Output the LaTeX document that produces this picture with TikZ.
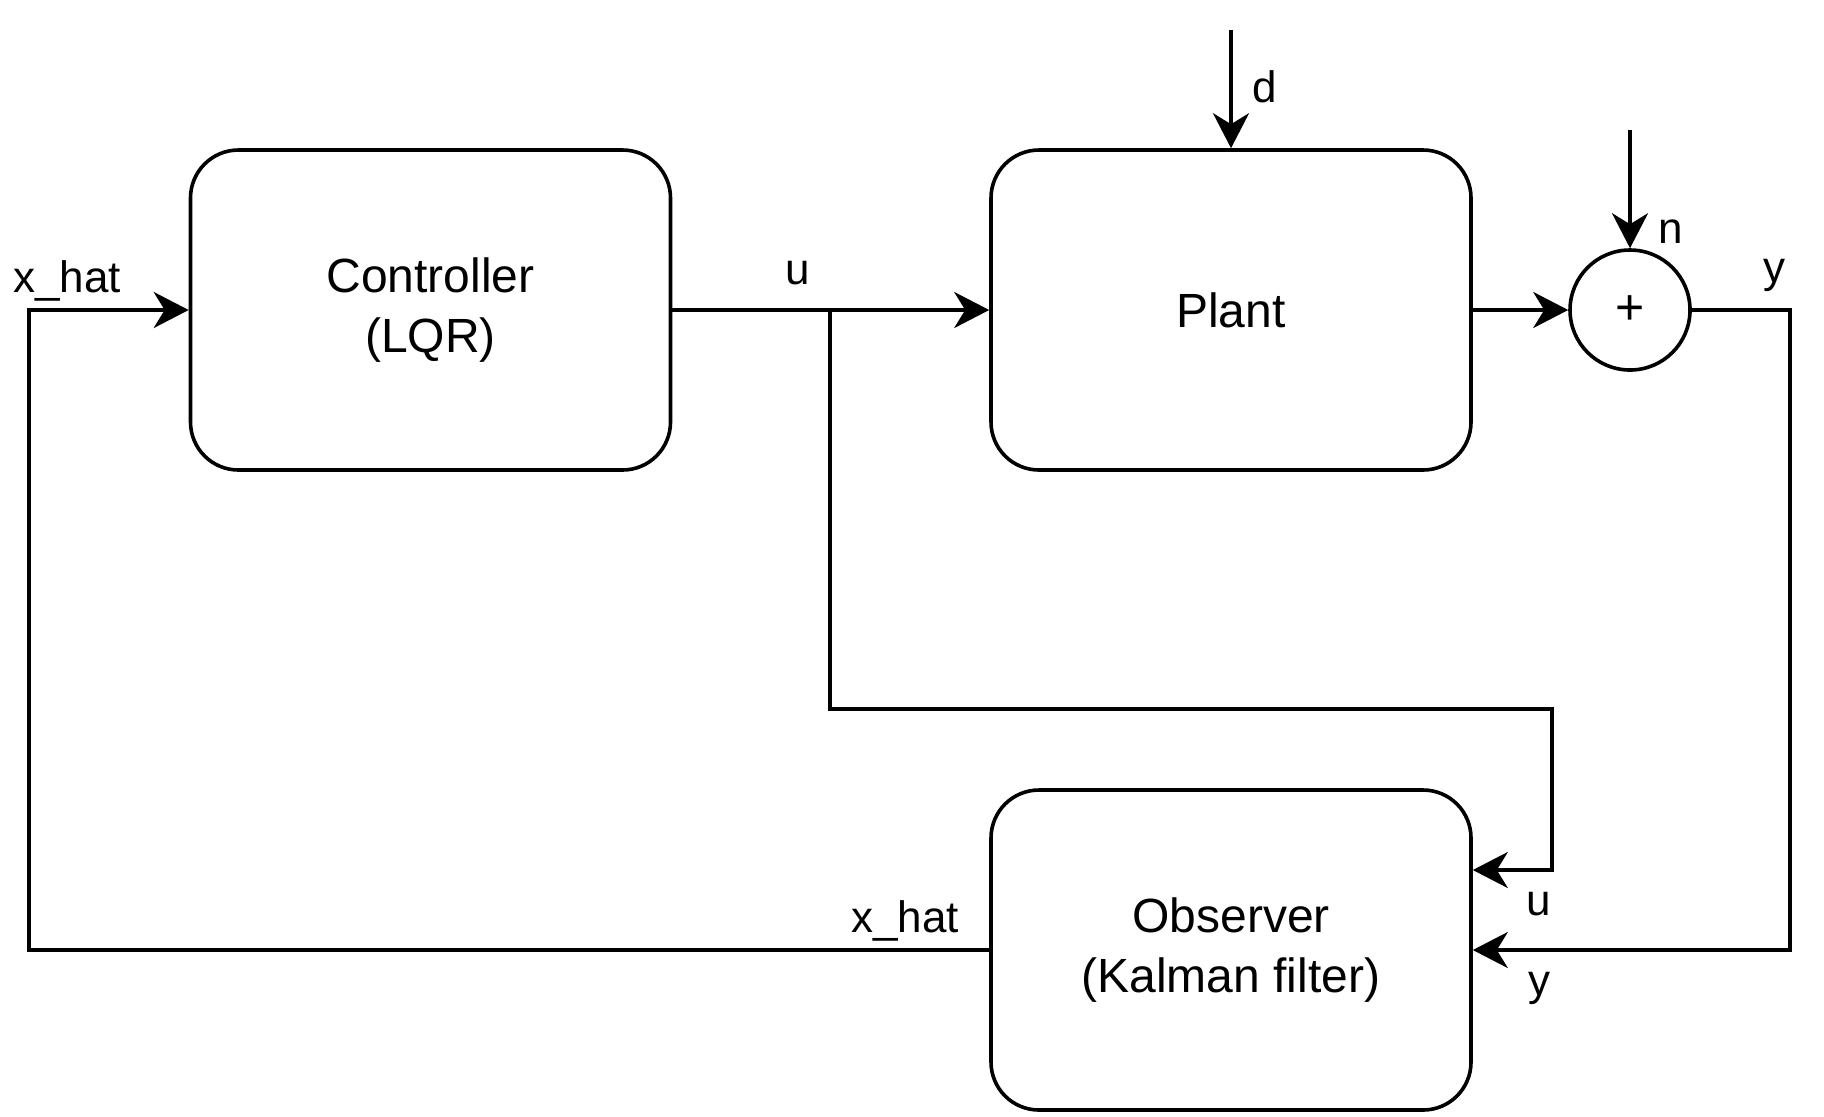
\documentclass[tikz,border=0pt]{standalone}
\usepackage{fontspec}
\setmainfont{Liberation Sans}
\usetikzlibrary{arrows.meta,calc}
\begin{document}
\begin{tikzpicture}[x=0.5pt,y=-0.5pt,
  blk/.style={draw,line width=1.8pt,rounded corners=24pt,minimum width=240pt,minimum height=160pt,align=center,inner sep=0pt,font=\fontsize{24pt}{30pt}\selectfont},
  sumc/.style={draw,circle,line width=1.8pt,minimum size=60pt,inner sep=0pt,font=\fontsize{25pt}{30pt}\selectfont},
  wire/.style={line width=1.8pt},
  arr/.style={wire,-{Stealth[length=17.5pt,width=18pt,inset=5.5pt]}},
  lbl/.style={anchor=base,inner sep=0pt,font=\fontsize{22pt}{25pt}\selectfont}]
\useasboundingbox (0,0) rectangle (1824,1116);
\node[blk] (ctrl) at (430.5,310) {Controller\\(LQR)};
\node[blk] (plant) at (1231,310) {Plant};
\node[blk] (obs) at (1231,950) {Observer\\(Kalman filter)};
\node[sumc] (sum) at (1630,310) {+};
\coordinate (br) at (830,310);
\coordinate (ubend) at (1552,709);
\coordinate (yc) at (1790,630);
\coordinate (lc) at (29,630);
\coordinate (dtop) at (1231,30);
\coordinate (ntop) at (1630,130);
\draw[arr] (ctrl.east) -- (plant.west);
\draw[arr] (plant.east) -- (sum.west);
\draw[arr] (dtop) -- (plant.north);
\draw[arr] (ntop) -- (sum.north);
\draw[arr] (br) |- (ubend) |- ($(obs.east)+(0,-80)$);
\draw[arr] (sum.east) -| (yc) |- (obs.east);
\draw[arr] (obs.west) -| (lc) |- (ctrl.west);
\node[lbl] (l1) at (67,292) {x\_hat};
\node[lbl] (l2) at (798,284) {u};
\node[lbl] (l3) at (1265,102) {d};
\node[lbl] (l4) at (1671,243) {n};
\node[lbl] (l5) at (1774,282) {y};
\node[lbl] (l6) at (1539,915) {u};
\node[lbl] (l7) at (1539,995) {y};
\node[lbl] (l8) at (905,932) {x\_hat};
\end{tikzpicture}
\end{document}
